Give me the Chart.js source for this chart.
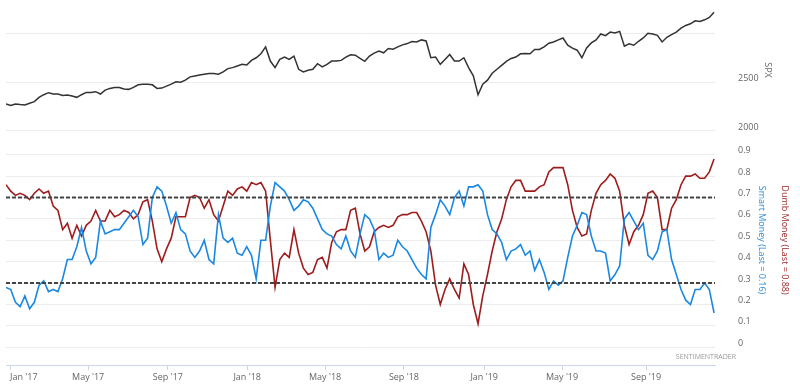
<!DOCTYPE html>
<html>
<head>
<meta charset="utf-8">
<script src="https://cdn.jsdelivr.net/npm/chart.js@4/dist/chart.umd.min.js"></script>
<style>
  body { margin: 0; background: #fff; }
  canvas { display: block; }
</style>
</head>
<body>
<canvas id="grafico" width="800" height="390"></canvas>
<script>
// --- DADOS (uma amostra por semana, semana 0 = fim de dez/2016) ---

const spx = [
  2279, 2262, 2279, 2272, 2269, 2286, 2303, 2347, 2374, 2395,
  2381, 2381, 2367, 2371, 2361, 2347, 2374, 2398, 2398, 2405,
  2381, 2422, 2439, 2449, 2449, 2432, 2429, 2449, 2476, 2483,
  2483, 2476, 2439, 2442, 2463, 2483, 2507, 2503, 2524, 2558,
  2568, 2578, 2585, 2592, 2592, 2585, 2609, 2643, 2653, 2670,
  2687, 2680, 2728, 2755, 2796, 2867, 2721, 2653, 2738, 2762,
  2738, 2772, 2636, 2609, 2626, 2636, 2694, 2660, 2687, 2721,
  2721, 2728, 2762, 2786, 2782, 2748, 2718, 2772, 2803, 2823,
  2806, 2850, 2843, 2867, 2888, 2901, 2922, 2918, 2939, 2928,
  2755, 2762, 2687, 2738, 2789, 2721, 2721, 2755, 2653, 2568,
  2374, 2483, 2524, 2595, 2636, 2677, 2718, 2748, 2762, 2796,
  2799, 2796, 2840, 2840, 2867, 2905, 2918, 2939, 2959, 2884,
  2854, 2833, 2755, 2857, 2908, 2939, 3000, 2983, 3020, 3010,
  3027, 2874, 2898, 2884, 2925, 2959, 3007, 3000, 2986, 2918,
  2966, 2993, 3020, 3061, 3088, 3105, 3136, 3129, 3146, 3170,
  3224
];

const smartMoney = [
  0.28, 0.27, 0.21, 0.19, 0.24, 0.18, 0.21, 0.29, 0.31, 0.26,
  0.27, 0.26, 0.32, 0.41, 0.41, 0.47, 0.56, 0.45, 0.39, 0.42,
  0.59, 0.53, 0.54, 0.55, 0.55, 0.58, 0.61, 0.64, 0.61, 0.48,
  0.51, 0.70, 0.75, 0.73, 0.66, 0.58, 0.63, 0.55, 0.53, 0.45,
  0.42, 0.45, 0.50, 0.41, 0.39, 0.62, 0.51, 0.49, 0.51, 0.44,
  0.43, 0.47, 0.43, 0.32, 0.50, 0.50, 0.66, 0.77, 0.75, 0.73,
  0.69, 0.64, 0.66, 0.69, 0.68, 0.65, 0.60, 0.55, 0.53, 0.52,
  0.48, 0.46, 0.52, 0.45, 0.42, 0.53, 0.62, 0.60, 0.55, 0.41,
  0.44, 0.42, 0.43, 0.50, 0.47, 0.45, 0.41, 0.37, 0.34, 0.32,
  0.56, 0.62, 0.69, 0.66, 0.62, 0.70, 0.73, 0.66, 0.75, 0.75,
  0.76, 0.73, 0.62, 0.55, 0.53, 0.49, 0.41, 0.45, 0.46, 0.48,
  0.43, 0.45, 0.36, 0.41, 0.35, 0.27, 0.31, 0.29, 0.31, 0.42,
  0.52, 0.57, 0.63, 0.62, 0.52, 0.45, 0.45, 0.44, 0.31, 0.34,
  0.38, 0.60, 0.63, 0.59, 0.55, 0.58, 0.43, 0.41, 0.45, 0.54,
  0.55, 0.41, 0.34, 0.27, 0.22, 0.20, 0.27, 0.27, 0.30, 0.27,
  0.16
];

const dumbMoney = [
  0.76, 0.73, 0.71, 0.72, 0.71, 0.69, 0.72, 0.74, 0.72, 0.73,
  0.66, 0.64, 0.55, 0.58, 0.51, 0.57, 0.52, 0.57, 0.59, 0.64,
  0.59, 0.59, 0.64, 0.61, 0.62, 0.64, 0.63, 0.60, 0.62, 0.68,
  0.69, 0.59, 0.46, 0.40, 0.46, 0.51, 0.61, 0.61, 0.61, 0.70,
  0.71, 0.70, 0.65, 0.69, 0.62, 0.59, 0.66, 0.73, 0.71, 0.74,
  0.75, 0.73, 0.77, 0.76, 0.77, 0.73, 0.50, 0.28, 0.41, 0.44,
  0.42, 0.55, 0.44, 0.37, 0.34, 0.35, 0.41, 0.42, 0.37, 0.49,
  0.54, 0.55, 0.55, 0.64, 0.65, 0.53, 0.45, 0.47, 0.54, 0.56,
  0.57, 0.56, 0.57, 0.61, 0.62, 0.62, 0.63, 0.63, 0.59, 0.54,
  0.45, 0.29, 0.20, 0.27, 0.32, 0.27, 0.23, 0.39, 0.34, 0.20,
  0.11, 0.24, 0.34, 0.45, 0.54, 0.60, 0.69, 0.75, 0.78, 0.78,
  0.73, 0.73, 0.73, 0.75, 0.76, 0.82, 0.84, 0.84, 0.84, 0.76,
  0.64, 0.56, 0.52, 0.53, 0.64, 0.72, 0.76, 0.78, 0.81, 0.79,
  0.73, 0.57, 0.48, 0.54, 0.57, 0.62, 0.72, 0.73, 0.70, 0.55,
  0.55, 0.65, 0.69, 0.76, 0.80, 0.80, 0.81, 0.79, 0.79, 0.82,
  0.88
];

// linhas tracejadas (zonas extremas)
const limites = [0.3, 0.7];

// eixo X: posicao (em semanas) do inicio de cada mes rotulado
const mesesSemana = [0.85, 17.4, 34.3, 51.1, 67.6, 84.3, 101.3, 117.8, 135.6];
const mesesRotulos = ["Jan '17", "May '17", "Sep '17", "Jan '18", "May '18", "Sep '18", "Jan '19", "May '19", "Sep '19"];

const spxTicks = [2000, 2500, 3000];
const spxRotulos = ['2000', '2500', ''];
const smTicks = [0, 0.1, 0.2, 0.3, 0.4, 0.5, 0.6, 0.7, 0.8, 0.9];

// --- CONFIGURACAO ---

const X_MAX = 150.2;
const FONTE = '"Open Sans", sans-serif';
const CORES = {
    spx: '#333333',
    smart: '#1a88e2',
    dumb: '#9e1c1c',
    grade: '#ececec',
    eixo: '#ccd6eb',
    texto: '#666666'
};

function pontos(serie) {
    return serie.map((v, i) => ({ x: i, y: v }));
}

function linhaLimite(valor) {
    return {
        data: [{ x: 0, y: valor }, { x: X_MAX, y: valor }],
        yAxisID: 'ySm',
        borderColor: '#444444',
        borderWidth: 2,
        borderDash: [4, 2]
    };
}

// eixo Y da direita: largura fixa e sem folga vertical extra
function ajustarEixoY(s) {
    s.width = 85;
    s.paddingTop = 0;
    s.paddingBottom = 0;
}

// titulos dos eixos e credito
const textosExtras = {
    id: 'textosExtras',
    afterDraw(chart) {
        const ctx = chart.ctx;
        const r = chart.chartArea.right;
        ctx.save();
        ctx.textAlign = 'center';
        ctx.textBaseline = 'middle';

        const titulos = [
            { t: 'SPX', x: r + 53, y: 70, cor: CORES.texto },
            { t: 'Smart Money (Last = 0.16)', x: r + 47, y: 240, cor: '#2b8ad6' },
            { t: 'Dumb Money (Last = 0.88)', x: r + 70, y: 240, cor: '#a02a2a' }
        ];
        ctx.font = '9px ' + FONTE;
        titulos.forEach(o => {
            ctx.save();
            ctx.translate(o.x, o.y);
            ctx.rotate(Math.PI / 2);
            ctx.fillStyle = o.cor;
            ctx.fillText(o.t, 0, 0);
            ctx.restore();
        });

        ctx.font = '7px ' + FONTE;
        ctx.fillStyle = '#999999';
        ctx.textAlign = 'right';
        ctx.fillText('SENTIMENTRADER', r + 21, 357);
        ctx.restore();
    }
};

const datasets = [
    { data: pontos(spx), yAxisID: 'ySpx', borderColor: CORES.spx, borderWidth: 1.5 },
    linhaLimite(limites[1]),
    linhaLimite(limites[0]),
    { data: pontos(smartMoney), yAxisID: 'ySm', borderColor: CORES.smart, borderWidth: 1.6 },
    { data: pontos(dumbMoney), yAxisID: 'ySm', borderColor: CORES.dumb, borderWidth: 1.6 }
];

new Chart(document.getElementById('grafico'), {
    type: 'line',
    data: { datasets },
    options: {
        responsive: false,
        animation: false,
        layout: { padding: { left: 6, top: 8, right: 0, bottom: 0 } },
        elements: { point: { radius: 0 }, line: { tension: 0 } },
        plugins: { legend: { display: false }, tooltip: { enabled: false } },
        scales: {
            x: {
                type: 'linear',
                min: 0,
                max: X_MAX,
                afterBuildTicks: s => {
                    s.ticks = mesesSemana.map(v => ({ value: v })).concat([{ value: X_MAX }]);
                },
                afterFit: s => { s.paddingLeft = 0; s.paddingRight = 0; s.height = 25; },
                ticks: {
                    autoSkip: false,
                    maxRotation: 0,
                    align: 'inner',
                    padding: 2,
                    color: CORES.texto,
                    font: { family: FONTE, size: 9 },
                    callback: (v, i) => mesesRotulos[i] || ''
                },
                grid: {
                    display: true,
                    drawOnChartArea: false,
                    drawTicks: true,
                    tickLength: 5,
                    tickColor: c => c.index < mesesRotulos.length ? CORES.eixo : 'rgba(0,0,0,0)'
                },
                border: { color: CORES.eixo, width: 1 }
            },
            ySpx: {
                type: 'linear',
                position: 'right',
                stack: 'paineis',
                stackWeight: 132,
                min: 1907,
                max: 3268,
                afterBuildTicks: s => { s.ticks = spxTicks.map(v => ({ value: v })); },
                afterFit: ajustarEixoY,
                ticks: {
                    autoSkip: false,
                    padding: 23,
                    labelOffset: -4,
                    color: CORES.texto,
                    font: { family: FONTE, size: 9 },
                    callback: (v, i) => spxRotulos[i]
                },
                grid: { color: CORES.grade, drawTicks: false },
                border: { display: false }
            },
            ySm: {
                type: 'linear',
                position: 'right',
                stack: 'paineis',
                stackWeight: 225,
                min: -0.083,
                max: 0.969,
                afterBuildTicks: s => { s.ticks = smTicks.map(v => ({ value: v })); },
                afterFit: ajustarEixoY,
                ticks: {
                    autoSkip: false,
                    padding: 23,
                    labelOffset: -4,
                    color: CORES.texto,
                    font: { family: FONTE, size: 9 },
                    callback: v => v === 0 ? '0' : v.toFixed(1)
                },
                grid: { color: CORES.grade, drawTicks: false },
                border: { display: false }
            }
        }
    },
    plugins: [textosExtras]
});
</script>
</body>
</html>
